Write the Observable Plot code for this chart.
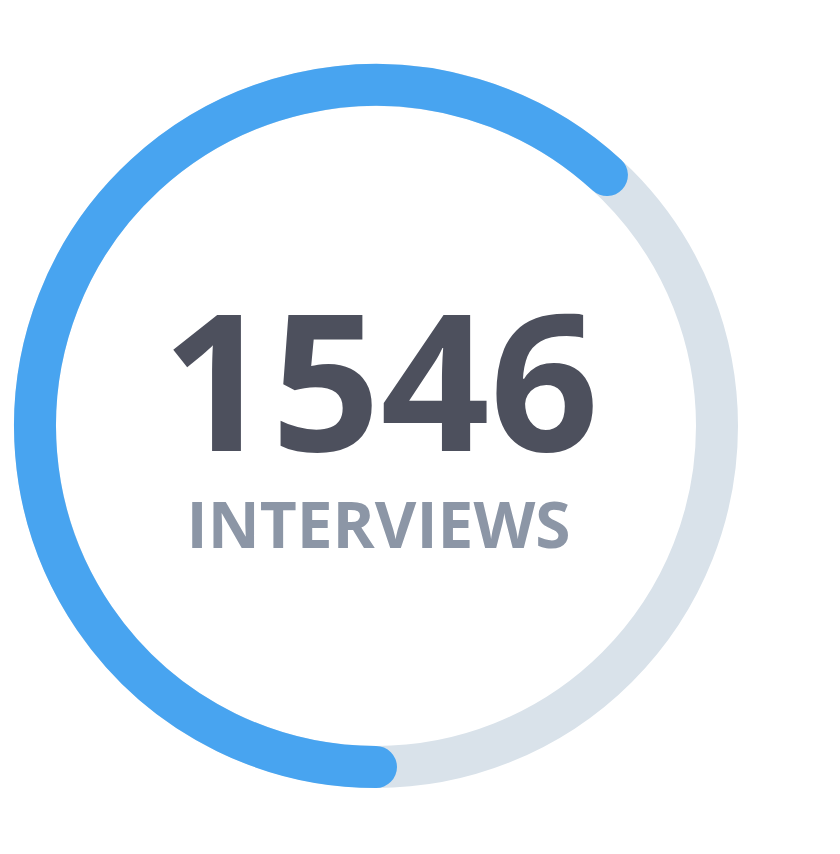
<!DOCTYPE html>
<html>
<head>
<meta charset="utf-8">
<script src="https://cdn.jsdelivr.net/npm/d3@7"></script>
<script src="https://cdn.jsdelivr.net/npm/@observablehq/plot@0.6"></script>
<style>
  html, body { margin: 0; padding: 0; background: #ffffff; }
  #chart svg { display: block; }
</style>
</head>
<body>
<div id="chart"></div>
<script>
// Data
const completed = [1546];
const target = [2500];
const numberLabels = ["1546"];
const unitLabels = ["INTERVIEWS"];

const W = 840, H = 854;
const ringRadius = 341;
const ringWidth = 42;
const blue = "#48a4f0";
const track = "#d9e2ea";

// Gauge mark: angle scale maps values to degrees (start at bottom, clockwise)
function gauge(index, scales, values, dimensions) {
  const angle = (scales && scales.x) ? scales.x
    : d3.scaleLinear().domain([0, target[0]]).range([90, 450]);
  const {width, height, marginLeft, marginRight, marginTop, marginBottom} = dimensions;
  const cx = marginLeft + (width - marginLeft - marginRight) / 2;
  const cy = marginTop + (height - marginTop - marginBottom) / 2;
  const g = d3.create("svg:g");
  g.append("circle")
    .attr("cx", cx).attr("cy", cy).attr("r", ringRadius)
    .attr("fill", "none").attr("stroke", track).attr("stroke-width", ringWidth);
  const rad = (d) => d * Math.PI / 180;
  const p = d3.path();
  const a0 = rad(angle(0)), a1 = rad(angle(completed[0]));
  p.moveTo(cx + ringRadius * Math.cos(a0), cy + ringRadius * Math.sin(a0));
  p.arc(cx, cy, ringRadius, a0, a1, false);
  g.append("path")
    .attr("d", p.toString())
    .attr("fill", "none").attr("stroke", blue)
    .attr("stroke-width", ringWidth).attr("stroke-linecap", "round");
  return g.node();
}

const chart = Plot.plot({
  width: W,
  height: H,
  marginLeft: 0,
  marginRight: 88,
  marginTop: 0,
  marginBottom: 2,
  style: {background: "#ffffff", fontFamily: "'Open Sans', sans-serif"},
  x: {domain: [0, target[0]], range: [90, 450], axis: null},
  marks: [
    Plot.ruleX(target, {x: d => d, strokeOpacity: 0}),
    gauge,
    Plot.text(numberLabels, {
      text: d => d, frameAnchor: "middle", lineAnchor: "bottom",
      dx: 4, dy: 24, fontSize: 191, fontWeight: 700, fill: "#4d505d",
      fontFamily: "'Open Sans', sans-serif"
    }),
    Plot.text(unitLabels, {
      text: d => d, frameAnchor: "middle", lineAnchor: "bottom",
      dx: 2, dy: 121, fontSize: 64, fontWeight: 700, fill: "#8c96a6",
      fontFamily: "'Open Sans', sans-serif"
    })
  ]
});
document.getElementById("chart").appendChild(chart);
</script>
</body>
</html>
